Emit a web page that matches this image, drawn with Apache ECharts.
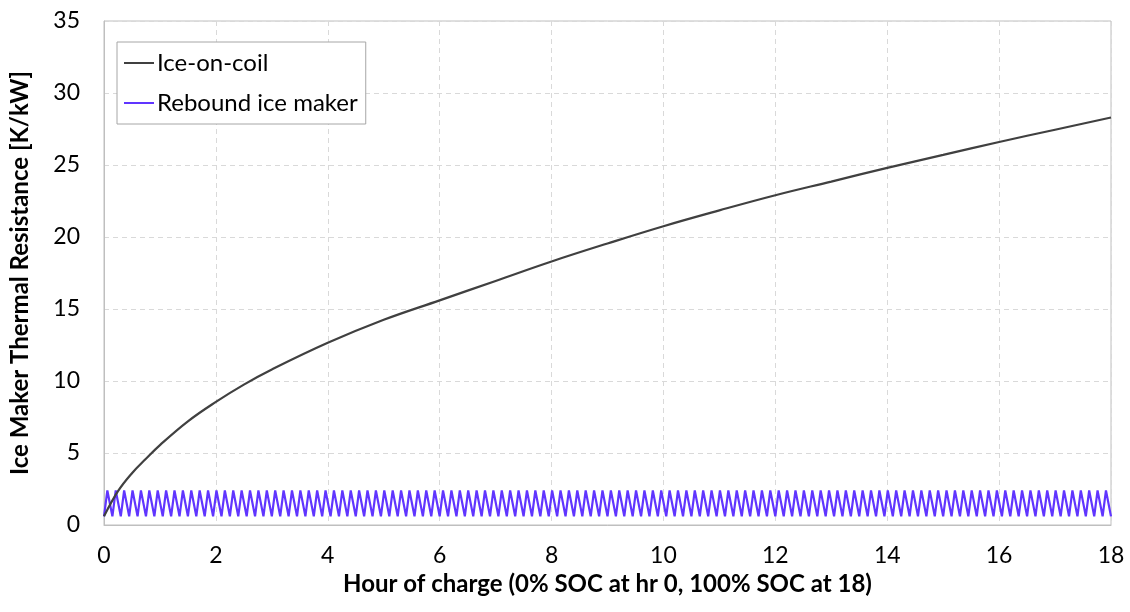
<!DOCTYPE html>
<html>
<head>
<meta charset="utf-8">
<title>Ice Maker Thermal Resistance</title>
<script src="https://cdn.jsdelivr.net/npm/echarts@6/dist/echarts.min.js"></script>
<style>
  html, body { margin: 0; padding: 0; background: #fff; }
  #chart { width: 1130px; height: 612px; }
</style>
</head>
<body>
<div id="chart"></div>
<script>
// hours of charge and resistance
const iceHours = [0, 0.25, 0.5, 0.75, 1, 1.5, 2, 2.5, 3, 4, 5, 6, 7, 8, 9, 10, 11, 12, 13, 14, 15, 16, 17, 18]
const iceValues = [0.6, 2.35, 3.6, 4.6, 5.55, 7.2, 8.55, 9.75, 10.8, 12.65, 14.25, 15.6, 16.95, 18.3, 19.55, 20.75, 21.85, 22.9, 23.85, 24.8, 25.7, 26.6, 27.45, 28.3]

// one harvest cycle of the rebound ice maker (hours into cycle, K/kW), repeated over the charge
const reboundCycleHours = [0, 0.06, 0.15]
const reboundCycleValues = [0.6, 2.4, 0.6]
const reboundCycles = 120

const xTicks = [0, 2, 4, 6, 8, 10, 12, 14, 16, 18]
const yTicks = [0, 5, 10, 15, 20, 25, 30, 35]

const iceData = iceHours.map((h, i) => [h, iceValues[i]])
const reboundData = []
const period = reboundCycleHours[reboundCycleHours.length - 1]
for (let c = 0; c < reboundCycles; c++) {
  for (let k = c === 0 ? 0 : 1; k < reboundCycleHours.length; k++) {
    reboundData.push([c * period + reboundCycleHours[k], reboundCycleValues[k]])
  }
}

const font = 'Lato, "Open Sans", sans-serif'
const chart = echarts.init(document.getElementById('chart'))

chart.setOption({
  animation: false,
  textStyle: { fontFamily: font },
  grid: {
    left: 101,
    right: 19,
    top: 21,
    bottom: 87,
    show: true,
    borderColor: '#bfbfbf',
    borderWidth: 1
  },
  legend: {
    left: 117,
    top: 42,
    orient: 'vertical',
    backgroundColor: '#fff',
    borderColor: '#a6a6a6',
    borderWidth: 1,
    padding: [9, 8, 9, 7],
    itemGap: 16,
    itemWidth: 30,
    itemHeight: 2,
    icon: 'rect',
    textStyle: { fontSize: 24, color: '#000', fontFamily: font, padding: [0, 0, 0, -2] },
    data: ['Ice-on-coil', 'Rebound ice maker']
  },
  xAxis: {
    type: 'value',
    min: xTicks[0],
    max: xTicks[xTicks.length - 1],
    interval: 2,
    name: 'Hour of charge (0% SOC at hr 0, 100% SOC at 18)',
    nameLocation: 'middle',
    nameGap: 46,
    nameTextStyle: { fontSize: 24, fontWeight: 'bold', color: '#000', fontFamily: font },
    axisLine: { lineStyle: { color: '#bfbfbf' } },
    axisTick: { show: false },
    axisLabel: { fontSize: 23, color: '#000', margin: 19 },
    splitLine: { lineStyle: { color: '#d9d9d9', type: [5, 4] } }
  },
  yAxis: {
    type: 'value',
    min: yTicks[0],
    max: yTicks[yTicks.length - 1],
    interval: 5,
    name: 'Ice Maker Thermal Resistance [K/kW]',
    nameLocation: 'middle',
    nameGap: 72,
    nameTextStyle: { fontSize: 24, fontWeight: 'bold', color: '#000', fontFamily: font },
    axisLine: { show: true, lineStyle: { color: '#bfbfbf' } },
    axisTick: { show: false },
    axisLabel: { fontSize: 23, color: '#000', margin: 24 },
    splitLine: { lineStyle: { color: '#d9d9d9', type: [5, 4] } }
  },
  series: [
    {
      name: 'Ice-on-coil',
      type: 'line',
      data: iceData,
      smooth: 0.4,
      showSymbol: false,
      color: '#404040',
      lineStyle: { width: 2.2, color: '#404040' },
      z: 3
    },
    {
      name: 'Rebound ice maker',
      type: 'line',
      data: reboundData,
      showSymbol: false,
      color: '#6035ff',
      lineStyle: { width: 2.2, color: '#6035ff' },
      z: 2
    }
  ]
})
</script>
</body>
</html>
